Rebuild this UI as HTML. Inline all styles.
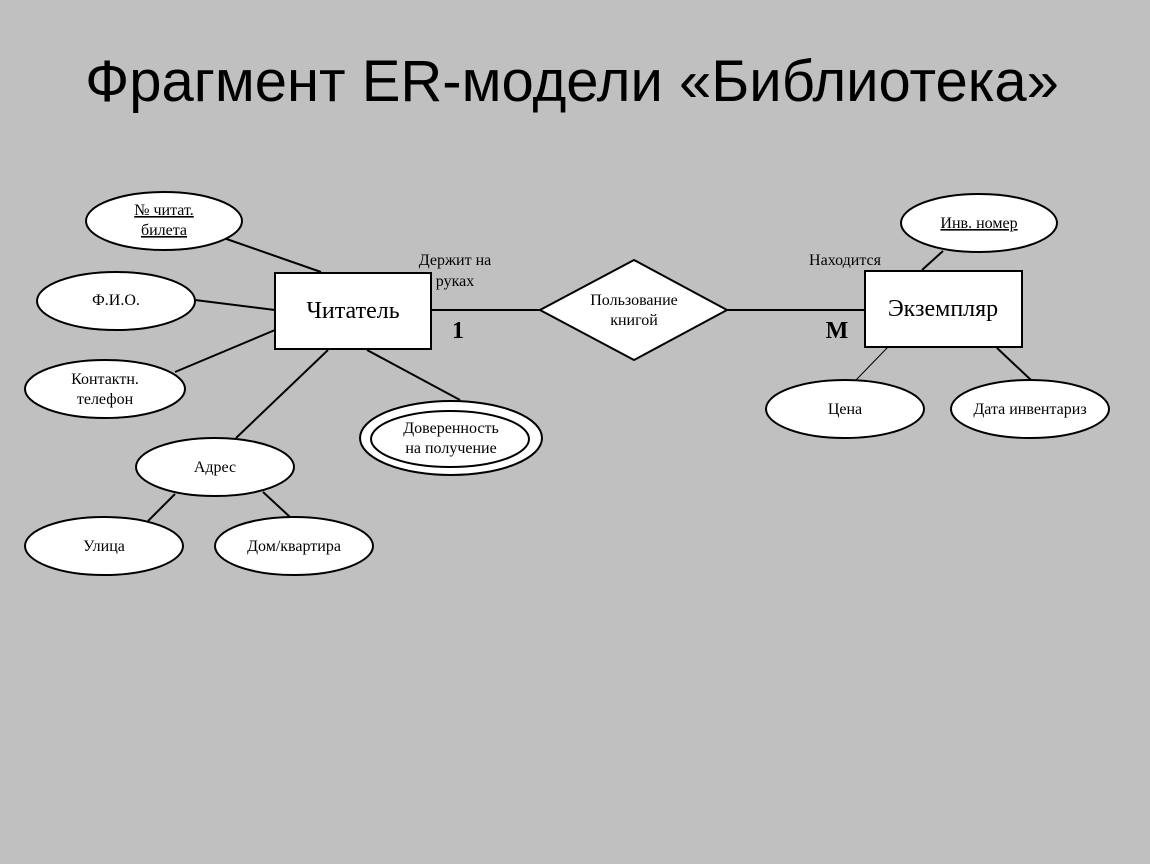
<!DOCTYPE html>
<html><head><meta charset="utf-8"><style>
html,body{margin:0;padding:0;background:#c0c0c0;}
svg{display:block}
</style></head><body>
<svg width="1150" height="864" xmlns="http://www.w3.org/2000/svg">
<rect width="1150" height="864" fill="#c0c0c0"/>
<text x="572" y="101" text-anchor="middle" font-family="Liberation Sans, sans-serif" font-size="58" fill="#000">Фрагмент ER-модели «Библиотека»</text>
<g stroke="#000" stroke-width="2" fill="none">
<line x1="218" y1="236" x2="321" y2="272"/>
<line x1="195" y1="300" x2="275" y2="310"/>
<line x1="175" y1="372" x2="275" y2="330"/>
<line x1="328" y1="350" x2="236" y2="438"/>
<line x1="367" y1="350" x2="460" y2="400"/>
<line x1="175" y1="494" x2="148" y2="521"/>
<line x1="263" y1="492" x2="290" y2="517"/>
<line x1="431" y1="310" x2="540" y2="310"/>
<line x1="727" y1="310" x2="865" y2="310"/>
<line x1="922" y1="270" x2="943" y2="251"/>
<line x1="888" y1="347" x2="856" y2="380" stroke-width="1"/>
<line x1="997" y1="348" x2="1031" y2="380"/>
</g>
<g stroke="#000" stroke-width="2" fill="#fff">
<ellipse cx="164" cy="221" rx="78" ry="29"/>
<ellipse cx="116" cy="301" rx="79" ry="29"/>
<ellipse cx="105" cy="389" rx="80" ry="29"/>
<ellipse cx="215" cy="467" rx="79" ry="29"/>
<ellipse cx="104" cy="546" rx="79" ry="29"/>
<ellipse cx="294" cy="546" rx="79" ry="29"/>
<ellipse cx="451" cy="438" rx="91" ry="37"/>
<ellipse cx="450" cy="439" rx="79" ry="28"/>
<rect x="275" y="273" width="156" height="76"/>
<polygon points="540,310 634,260 727,310 634,360"/>
<rect x="865" y="271" width="157" height="76"/>
<ellipse cx="979" cy="223" rx="78" ry="29"/>
<ellipse cx="845" cy="409" rx="79" ry="29"/>
<ellipse cx="1030" cy="409" rx="79" ry="29"/>
</g>
<g font-family="Liberation Serif, serif" font-size="16" fill="#000" text-anchor="middle">
<text x="164" y="215" text-decoration="underline">№ читат.</text>
<text x="164" y="235" text-decoration="underline">билета</text>
<text x="116" y="305">Ф.И.О.</text>
<text x="105" y="384">Контактн.</text>
<text x="105" y="404">телефон</text>
<text x="215" y="472">Адрес</text>
<text x="104" y="551">Улица</text>
<text x="294" y="551">Дом/квартира</text>
<text x="451" y="433">Доверенность</text>
<text x="451" y="453">на получение</text>
<text x="634" y="305">Пользование</text>
<text x="634" y="325">книгой</text>
<text x="979" y="228" text-decoration="underline">Инв. номер</text>
<text x="845" y="414">Цена</text>
<text x="1030" y="414">Дата инвентариз</text>
<text x="455" y="265">Держит на</text>
<text x="455" y="286">руках</text>
<text x="845" y="265">Находится</text>
<text x="353" y="318" font-size="24">Читатель</text>
<text x="943" y="316" font-size="24">Экземпляр</text>
<text x="458" y="338" font-size="24" font-weight="bold">1</text>
<text x="837" y="338" font-size="24" font-weight="bold">M</text>
</g>
</svg>
</body></html>
